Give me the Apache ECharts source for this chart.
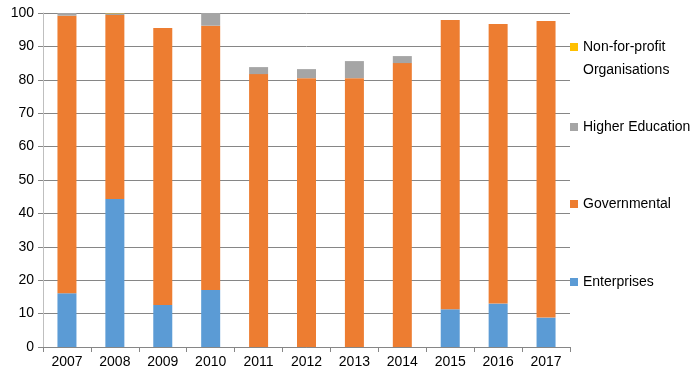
<!DOCTYPE html>
<html><head><meta charset="utf-8">
<script src="https://cdn.jsdelivr.net/npm/echarts@6/dist/echarts.min.js"></script>
<style>html,body{margin:0;padding:0;background:#fff}#c{width:700px;height:386px}</style>
</head><body><div id="c"></div>
<script>
const years = ['2007','2008','2009','2010','2011','2012','2013','2014','2015','2016','2017'];
const enterprises = [16.1, 44.3, 12.6, 17.1, 0, 0, 0, 0, 11.3, 13.0, 8.8];
const governmental = [83.1, 55.1, 82.9, 79.1, 81.7, 80.5, 80.5, 85.0, 86.6, 83.7, 88.8];
const higherEducation = [0.8, 0.5, 0, 3.8, 2.1, 2.7, 5.1, 2.1, 0, 0, 0];
const nonProfit = [0, 0.4, 0, 0, 0, 0, 0, 0, 0, 0, 0];
const yTicks = {min: 0, max: 100, interval: 10};

const names = ['Enterprises','Governmental','Higher Education','Non-for-profit Organisations'];
const colors = ['#5B9BD5','#ED7D31','#A5A5A5','#FFC000'];
const datas = [enterprises, governmental, higherEducation, nonProfit];
const font = 'Liberation Sans';
const legendTops = [270.5, 192.5, 115.5, 12.5];

const chart = echarts.init(document.getElementById('c'), null, {renderer: 'canvas'});
chart.setOption({
  animation: false,
  grid: {left: 43, right: 130, top: 13, bottom: 39, containLabel: false},
  legend: names.map((n, i) => ({
    data: [n],
    left: 570, top: legendTops[i],
    padding: 0,
    orient: 'vertical',
    itemWidth: 8, itemHeight: 8, itemGap: 0,
    icon: 'rect',
    formatter: i === 3 ? ' \nNon-for-profit\nOrganisations' : '{name}',
    textStyle: {fontFamily: font, fontSize: 14, color: '#000', lineHeight: 23},
    selectedMode: false
  })),
  xAxis: {
    type: 'category', data: years,
    axisLine: {lineStyle: {color: '#868686'}},
    axisTick: {show: true, length: 5, lineStyle: {color: '#868686'}},
    axisLabel: {fontFamily: font, fontSize: 14, color: '#000', margin: 8}
  },
  yAxis: {
    type: 'value', min: yTicks.min, max: yTicks.max, interval: yTicks.interval,
    axisLine: {show: true, lineStyle: {color: '#bfbfbf'}},
    axisTick: {show: true, length: 5, lineStyle: {color: '#868686'}},
    splitLine: {lineStyle: {color: '#868686'}},
    axisLabel: {fontFamily: font, fontSize: 14, color: '#000', margin: 9}
  },
  series: names.map((n, i) => ({
    name: n, type: 'bar', stack: 'total', data: datas[i],
    barWidth: 19,
    itemStyle: {color: colors[i]}
  }))
});
</script></body></html>
